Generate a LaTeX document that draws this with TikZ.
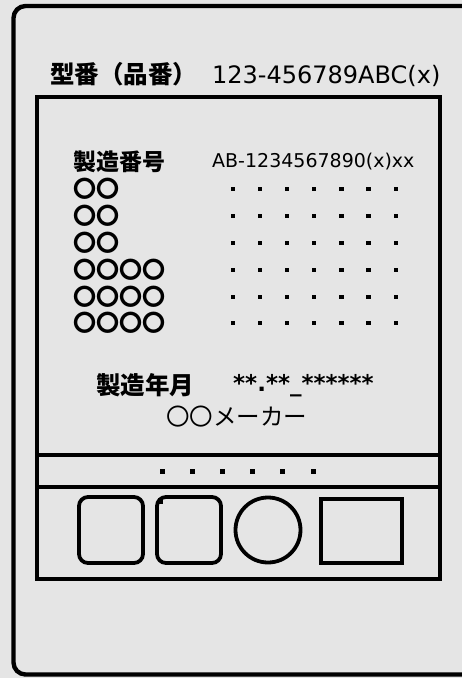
\documentclass[tikz,border=0pt]{standalone}
\usepackage{fontspec}
\setmainfont{DejaVu Sans}
\newfontfamily\jp{Noto Sans CJK JP}
\begin{document}
\begin{tikzpicture}[x=1pt,y=-1pt,
  frame/.style={draw=black,line width=4.4pt},
  part/.style={draw=black,line width=3.8pt},
  dotsq/.style={fill=black,minimum size=4.2pt,inner sep=0pt},
  bdot/.style={fill=black,minimum size=5pt,inner sep=0pt},
  lbl/.style={anchor=west,inner sep=0pt}]
\useasboundingbox (0,0) rectangle (462,678);
\fill[gray!20] (0,0) rectangle (462,678);
\begin{scope}
\clip (0,0) rectangle (462,678);
\draw[frame,rounded corners=12pt] (13.5,6) rectangle (480,674.5);
\end{scope}
% title
\node[lbl] (title) at (50,75) {{\jp\bfseries\fontsize{24.5}{24.5}\selectfont 型番（品番）}\hspace{15pt}{\fontsize{24}{24}\selectfont 123-456789ABC(x)}};
% inner box
\draw[frame] (37,97) rectangle (440,579);
\coordinate (l1a) at (37,455); \coordinate (l1b) at (440,455);
\coordinate (l2a) at (37,487); \coordinate (l2b) at (440,487);
\draw[frame] (l1a) -- (l1b);
\draw[frame] (l2a) -- (l2b);
% serial
\node[lbl] (sn) at (73,162) {\jp\bfseries\fontsize{23}{23}\selectfont 製造番号};
\node[lbl] (snv) at (212,162) {\fontsize{19}{19}\selectfont AB-1234567890(x)xx};
\foreach \y/\t [count=\i] in {189/〇〇,216/〇〇,243/〇〇,270/〇〇〇〇,297/〇〇〇〇,323/〇〇〇〇}{
  \node[lbl] (row\i) at (73,\y) {\jp\bfseries\fontsize{23}{23}\selectfont \t};
  \foreach \k in {0,...,6}{
    \node[dotsq] (d\i-\k) at (233+27.1*\k,\y) {};
  }
}
% date
\node[lbl] (dt) at (96,385) {\jp\bfseries\fontsize{24.5}{24.5}\selectfont 製造年月};
\node[lbl] (dtv) at (233,386) {\bfseries\fontsize{23}{23}\selectfont **.**\_******};
\node (mk) at (236.5,417) {\jp\fontsize{23.5}{23.5}\selectfont 〇〇メーカー};
% bottom dots
\foreach \k in {0,...,5}{
  \node[bdot] (b\k) at (162+30.2*\k,471) {};
}
% symbols
\draw[part,rounded corners=9pt] (79,497) rectangle (143,563);
\draw[part,rounded corners=9pt] (157,497) rectangle (221,563);
\fill[black] (158,498) rectangle (163,504);
\node[part,circle,minimum size=65pt,inner sep=0pt] (c) at (268,530) {};
\draw[part] (321,499) rectangle (402,563);
\end{tikzpicture}
\end{document}
